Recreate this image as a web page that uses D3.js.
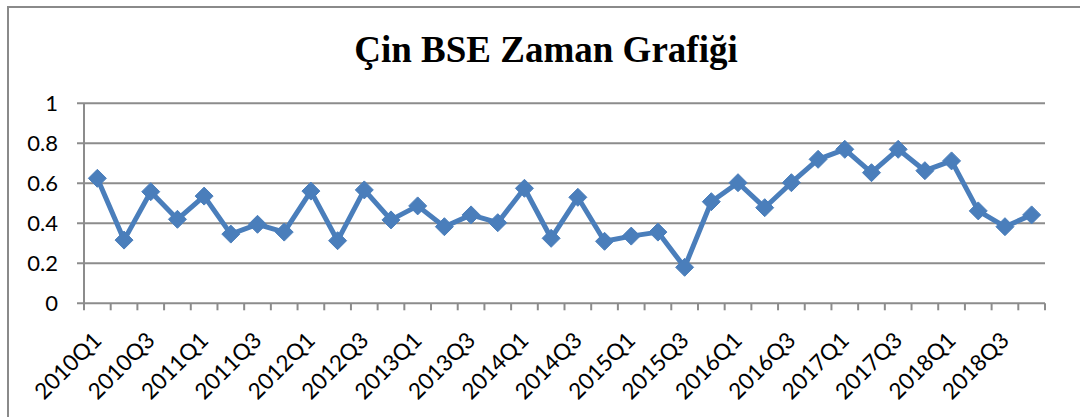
<!DOCTYPE html>
<html>
<head>
<meta charset="utf-8">
<script src="https://cdn.jsdelivr.net/npm/d3@7"></script>
<style>
  html, body { margin: 0; padding: 0; background: #fff; }
  svg { display: block; }
</style>
</head>
<body>
<svg id="chart" width="1080" height="417"></svg>
<script>
const title = "Çin BSE Zaman Grafiği";
const years = [2010, 2011, 2012, 2013, 2014, 2015, 2016, 2017, 2018];
const quarters = ["Q1", "Q2", "Q3", "Q4"];
const categories = years.flatMap(y => quarters.map(q => y + q));
const values = [
  0.625, 0.316, 0.558, 0.42, 0.536, 0.346, 0.395, 0.356,
  0.561, 0.313, 0.567, 0.417, 0.487, 0.383, 0.442, 0.403,
  0.575, 0.325, 0.53, 0.31, 0.336, 0.356, 0.18, 0.508,
  0.603, 0.478, 0.603, 0.72, 0.77, 0.653, 0.77, 0.663,
  0.712, 0.462, 0.383, 0.442
];
const yTicks = [0, 0.2, 0.4, 0.6, 0.8, 1];
const yTickLabels = ["0", "0.2", "0.4", "0.6", "0.8", "1"];

const svg = d3.select("#chart");
const W = 1080, H = 417;
const plotLeft = 84, plotRight = 1045, plotTop = 103.3, plotBottom = 303.3;

const gridColor = "#8c8c8c";
const lineColor = "#4a7ebb";
const labelFont = "Lato, 'Open Sans', sans-serif";

// outer chart border (left and top visible)
svg.append("path")
  .attr("d", `M8,${H} L8,7 L${W},7`)
  .attr("fill", "none")
  .attr("stroke", "#8a8a8a")
  .attr("stroke-width", 2);

// title
svg.append("text")
  .attr("x", 546)
  .attr("y", 62)
  .attr("text-anchor", "middle")
  .attr("font-family", "'Liberation Serif', 'Times New Roman', serif")
  .attr("font-weight", "bold")
  .attr("font-size", 37)
  .attr("fill", "#000")
  .text(title);

const x = d3.scaleBand().domain(categories).range([plotLeft, plotRight]).padding(0);
const y = d3.scaleLinear().domain([0, 1]).range([plotBottom, plotTop]);

// gridlines
svg.append("g")
  .selectAll("line")
  .data(yTicks)
  .join("line")
  .attr("x1", plotLeft - 7)
  .attr("x2", plotRight)
  .attr("y1", d => y(d))
  .attr("y2", d => y(d))
  .attr("stroke", gridColor)
  .attr("stroke-width", 2);

// y axis line
svg.append("line")
  .attr("x1", plotLeft).attr("x2", plotLeft)
  .attr("y1", plotTop).attr("y2", plotBottom)
  .attr("stroke", gridColor)
  .attr("stroke-width", 2);

// y labels
svg.append("g")
  .selectAll("text")
  .data(yTicks)
  .join("text")
  .attr("x", 58)
  .attr("y", d => y(d))
  .attr("dy", "0.36em")
  .attr("text-anchor", "end")
  .attr("font-family", labelFont)
  .attr("font-size", 22)
  .attr("fill", "#000")
  .text((d, i) => yTickLabels[i]);

// x tick marks at category boundaries
const boundaries = categories.map(c => x(c)).concat([plotRight]);
svg.append("g")
  .selectAll("line")
  .data(boundaries)
  .join("line")
  .attr("x1", d => d).attr("x2", d => d)
  .attr("y1", plotBottom).attr("y2", plotBottom + 7)
  .attr("stroke", gridColor)
  .attr("stroke-width", 2);

// x labels every other
svg.append("g")
  .selectAll("text")
  .data(categories.filter((c, i) => i % 2 === 0))
  .join("text")
  .attr("transform", d => `translate(${x(d) + x.bandwidth() / 2},${plotBottom + 33}) rotate(-45)`)
  .attr("text-anchor", "end")
  .attr("dy", "0.35em")
  .attr("font-family", labelFont)
  .attr("font-size", 22.5)
  .attr("fill", "#000")
  .text(d => d);

// line
const cx = (d, i) => x(categories[i]) + x.bandwidth() / 2;
const line = d3.line().x((d, i) => cx(d, i)).y(d => y(d));
svg.append("path")
  .datum(values)
  .attr("d", line)
  .attr("fill", "none")
  .attr("stroke", lineColor)
  .attr("stroke-width", 5)
  .attr("stroke-linejoin", "round");

// diamond markers
const r = 9;
svg.append("g")
  .selectAll("path")
  .data(values)
  .join("path")
  .attr("transform", (d, i) => `translate(${cx(d, i)},${y(d)})`)
  .attr("d", `M0,${-r} L${r},0 L0,${r} L${-r},0 Z`)
  .attr("fill", lineColor)
  .attr("stroke", lineColor)
  .attr("stroke-width", 1);
</script>
</body>
</html>
